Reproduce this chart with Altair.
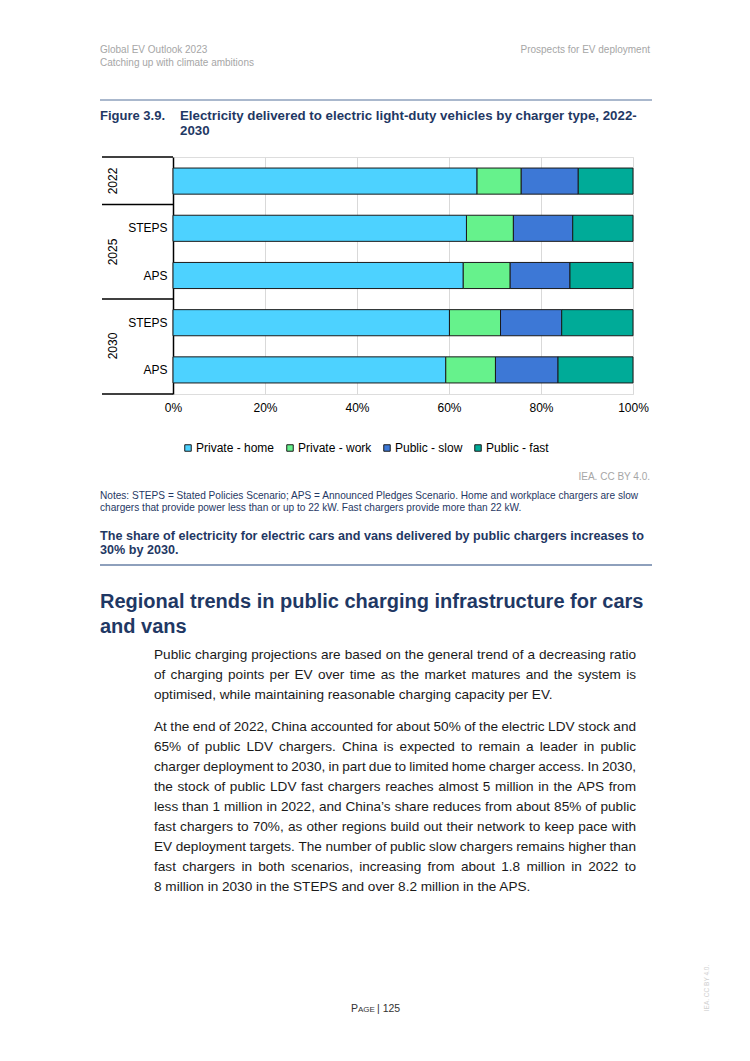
import altair as alt
import pandas as pd

# ---------------- data ----------------
rows = ["2022", "2025 STEPS", "2025 APS", "2030 STEPS", "2030 APS"]
series = ["Private - home", "Private - work", "Public - slow", "Public - fast"]
colors = ["#4DD2FF", "#66F28C", "#3D78D6", "#00AB98"]
private_home = [66.1, 63.8, 63.1, 60.1, 59.3]
private_work = [9.6, 10.2, 10.2, 11.1, 10.8]
public_slow = [12.4, 12.9, 13.0, 13.3, 13.6]
public_fast = [11.9, 13.1, 13.7, 15.5, 16.3]
x_ticks = [0, 0.2, 0.4, 0.6, 0.8, 1.0]
year_groups = ["2022", "2025", "2030"]

values = [private_home, private_work, public_slow, public_fast]
recs = []
for si, s in enumerate(series):
    for ri, r in enumerate(rows):
        recs.append({"row": r, "series": s, "value": values[si][ri], "order": si})
df = pd.DataFrame(recs)

FONT = "Liberation Sans"
NAVY = "#1F3864"
GREY = "#A6A6A6"

# ---------------- chart ----------------
bars = alt.Chart(df).mark_bar(stroke="#1a1a1a", strokeWidth=1).encode(
    y=alt.Y(
        "row:N", sort=rows,
        scale=alt.Scale(paddingInner=0.447, paddingOuter=0.234),
        axis=alt.Axis(
            title=None, ticks=False, domainColor="#000000", domainWidth=1.5,
            labelExpr="indexof(datum.label, ' ') > 0 ? substring(datum.label, indexof(datum.label, ' ') + 1) : ''",
            labelFontSize=12, labelColor="#000000", labelPadding=6, labelFont=FONT,
        ),
    ),
    x=alt.X(
        "value:Q", stack="normalize",
        scale=alt.Scale(domain=[0, 1]),
        axis=alt.Axis(
            title=None, values=x_ticks, format="%", domain=False, ticks=False,
            grid=True, gridColor="#D9D9D9", gridWidth=1, labelFlush=False,
            labelPadding=8, labelFontSize=12, labelColor="#000000", labelFont=FONT,
        ),
    ),
    color=alt.Color(
        "series:N", sort=series,
        scale=alt.Scale(domain=series, range=colors),
        legend=alt.Legend(
            title=None, orient="none", legendX=9, legendY=285, direction="horizontal",
            columns=4, symbolType="square", symbolSize=42, symbolStrokeColor="#1a1a1a",
            symbolStrokeWidth=1, labelFontSize=12, labelColor="#000000", labelFont=FONT,
            columnPadding=9, labelOffset=2, padding=0,
        ),
    ),
    order=alt.Order("order:Q"),
)

one = alt.Data(values=[{}])


def txt(s, x, y, size, color="#000000", weight="normal", align="left", angle=0):
    return alt.Chart(one).mark_text(
        text=s, align=align, baseline="middle", font=FONT, fontSize=size,
        fontWeight=weight, color=color, angle=angle,
    ).encode(x=alt.value(x), y=alt.value(y))


def hline(x1, x2, y, color, width):
    return alt.Chart(one).mark_rule(color=color, strokeWidth=width).encode(
        x=alt.value(x1), x2=alt.value(x2), y=alt.value(y)
    )


# Arial / Liberation Sans advance widths (1/1000 em) for justified body text
W = {" ": 278, ",": 278, ".": 278, "%": 889, "\u2019": 222, "-": 333, ":": 278, ";": 278}
for ch in "0123456789":
    W[ch] = 556
W.update(dict(zip("abcdefghijklmnopqrstuvwxyz",
                  [556, 556, 500, 556, 556, 278, 556, 556, 222, 222, 500, 222, 833,
                   556, 556, 556, 556, 333, 500, 278, 556, 500, 722, 500, 500, 500])))
W.update(dict(zip("ABCDEFGHIJKLMNOPQRSTUVWXYZ",
                  [667, 667, 722, 722, 667, 611, 778, 722, 278, 500, 667, 556, 833,
                   722, 778, 667, 778, 722, 667, 611, 722, 667, 944, 667, 667, 611])))


def word_w(w, size):
    return sum(W.get(c, 556) for c in w) * size / 1000.0


# plot origin on page: (173, 157)
OX, OY = 173, 157
layers = [bars]

# axis group separators
for py in [157, 204.5, 299, 394]:
    layers.append(hline(102 - OX, 0, py - OY, "#000000", 1.5))

# rotated year labels
for lab, py in zip(year_groups, [181, 252, 346]):
    layers.append(txt(lab, 113 - OX, py - OY, 12, align="center", angle=270))

# header
layers.append(txt("Global EV Outlook 2023", 100 - OX, 50 - OY, 10, GREY))
layers.append(txt("Catching up with climate ambitions", 100 - OX, 63 - OY, 10, GREY))
layers.append(txt("Prospects for EV deployment", 650 - OX, 50 - OY, 10, GREY, align="right"))

# figure title
layers.append(hline(100 - OX, 652 - OX, 100 - OY, "#8EA0BC", 1.5))
layers.append(txt("Figure 3.9.", 100 - OX, 116 - OY, 13, NAVY, "bold"))
layers.append(txt("Electricity delivered to electric light-duty vehicles by charger type, 2022-",
                  180 - OX, 116 - OY, 13.3, NAVY, "bold"))
layers.append(txt("2030", 180 - OX, 131 - OY, 13.3, NAVY, "bold"))

# source / notes
layers.append(txt("IEA. CC BY 4.0.", 650 - OX, 477 - OY, 10, GREY, align="right"))
layers.append(txt("Notes: STEPS = Stated Policies Scenario; APS = Announced Pledges Scenario. Home and workplace chargers are slow",
                  100 - OX, 496 - OY, 10.1, NAVY))
layers.append(txt("chargers that provide power less than or up to 22 kW. Fast chargers provide more than 22 kW.",
                  100 - OX, 507.5 - OY, 10.1, NAVY))

# key message
layers.append(txt("The share of electricity for electric cars and vans delivered by public chargers increases to",
                  100 - OX, 536 - OY, 12.6, NAVY, "bold"))
layers.append(txt("30% by 2030.", 100 - OX, 550 - OY, 12.6, NAVY, "bold"))
layers.append(hline(100 - OX, 652 - OX, 565 - OY, "#8EA0BC", 2))

# section heading
layers.append(txt("Regional trends in public charging infrastructure for cars", 100 - OX, 602 - OY, 20, NAVY, "bold"))
layers.append(txt("and vans", 100 - OX, 627 - OY, 20, NAVY, "bold"))

# body text (justified)
para1 = [
    "Public charging projections are based on the general trend of a decreasing ratio",
    "of charging points per EV over time as the market matures and the system is",
    "optimised, while maintaining reasonable charging capacity per EV.",
]
para2 = [
    "At the end of 2022, China accounted for about 50% of the electric LDV stock and",
    "65% of public LDV chargers. China is expected to remain a leader in public",
    "charger deployment to 2030, in part due to limited home charger access. In 2030,",
    "the stock of public LDV fast chargers reaches almost 5 million in the APS from",
    "less than 1 million in 2022, and China\u2019s share reduces from about 85% of public",
    "fast chargers to 70%, as other regions build out their network to keep pace with",
    "EV deployment targets. The number of public slow chargers remains higher than",
    "fast chargers in both scenarios, increasing from about 1.8 million in 2022 to",
    "8 million in 2030 in the STEPS and over 8.2 million in the APS.",
]
BODY_SIZE = 13.6
LEFT, RIGHT = 154, 636


def body_line(line, y, justify):
    if not justify:
        return [txt(line, LEFT - OX, y - OY, BODY_SIZE, "#1a1a1a")]
    words = line.split(" ")
    widths = [word_w(w, BODY_SIZE) for w in words]
    gap = (RIGHT - LEFT - sum(widths)) / (len(words) - 1)
    gap = max(gap, 0.8 * word_w(" ", BODY_SIZE))
    out = []
    x = LEFT
    for w, ww in zip(words, widths):
        out.append(txt(w, x - OX, y - OY, BODY_SIZE, "#1a1a1a"))
        x += ww + gap
    return out


for i, line in enumerate(para1):
    layers += body_line(line, 655 + 19.8 * i, i < len(para1) - 1)
for i, line in enumerate(para2):
    layers += body_line(line, 727 + 20 * i, i < len(para2) - 1)

# footer
layers.append(txt("P", 351 - OX, 1009 - OY, 10.5, "#333333"))
layers.append(txt("AGE", 358 - OX, 1009.5 - OY, 8, "#333333"))
layers.append(txt("| 125", 377 - OX, 1009 - OY, 10.5, "#333333"))
layers.append(txt("IEA. CC BY 4.0.", 707 - OX, 988 - OY, 6.5, "#D0D0D0", align="center", angle=270))

chart = alt.layer(*layers).properties(
    width=460, height=237,
    autosize=alt.AutoSizeParams(type="none"),
    padding={"left": 165, "top": 149, "right": 109, "bottom": 640},
).configure_view(stroke=None).configure(font=FONT)

chart.save("out.html", embed_options={"renderer": "svg", "actions": False})
